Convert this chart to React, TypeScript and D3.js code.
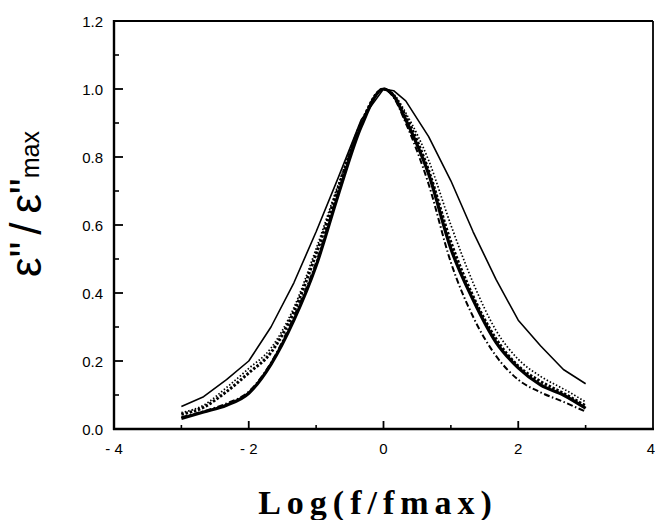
import * as d3 from "d3";
import React from "react";

// log(f/fmax) sample positions shared by every curve
const logF = [-3, -2.67, -2.33, -2, -1.67, -1.33, -1, -0.67, -0.33, 0, 0.15, 0.33, 0.67, 1, 1.33, 1.67, 2, 2.33, 2.67, 3];

// normalised loss curves
const thinSolid = [0.066, 0.095, 0.145, 0.2, 0.3, 0.43, 0.58, 0.74, 0.91, 1.0, 0.995, 0.965, 0.86, 0.73, 0.58, 0.44, 0.32, 0.245, 0.175, 0.133];
const fineDotted = [0.048, 0.07, 0.122, 0.178, 0.238, 0.357, 0.53, 0.72, 0.9, 1.0, 0.985, 0.93, 0.79, 0.6, 0.43, 0.29, 0.205, 0.155, 0.118, 0.08];
const thickSolid = [0.031, 0.05, 0.07, 0.105, 0.19, 0.32, 0.48, 0.69, 0.89, 1.0, 0.98, 0.91, 0.75, 0.53, 0.38, 0.255, 0.18, 0.13, 0.1, 0.061];
const dashDot = [0.035, 0.052, 0.075, 0.11, 0.195, 0.33, 0.49, 0.7, 0.9, 1.0, 0.975, 0.9, 0.72, 0.49, 0.33, 0.215, 0.145, 0.108, 0.08, 0.051];
const heavyDotted = [0.043, 0.064, 0.11, 0.165, 0.225, 0.345, 0.515, 0.71, 0.9, 1.0, 0.98, 0.92, 0.76, 0.55, 0.39, 0.265, 0.185, 0.14, 0.105, 0.068];

const xTicks = [-4, -2, 0, 2, 4];
const xTickLabels = ["- 4", "- 2", "0", "2", "4"];
const xMinor = [-3, -1, 1, 3];
const yTicks = [0, 0.2, 0.4, 0.6, 0.8, 1.0, 1.2];
const yMinor = [0.1, 0.3, 0.5, 0.7, 0.9, 1.1];

const W = 655, H = 520;
const left = 114, right = 653, top = 21, bottom = 429;

const x = d3.scaleLinear().domain([-4, 4]).range([left, right]);
const y = d3.scaleLinear().domain([0, 1.2]).range([bottom, top]);

const smooth = d3.line<number>()
  .x((_v, i) => x(logF[i]))
  .y((v) => y(v))
  .curve(d3.curveMonotoneX);
// the thin curve shows its data kinks in the original
const straight = d3.line<number>()
  .x((_v, i) => x(logF[i]))
  .y((v) => y(v))
  .curve(d3.curveLinear);

const series = [
  { vals: thinSolid, width: 1.6, dash: undefined, gen: straight },
  { vals: fineDotted, width: 1.7, dash: "1.5 2", gen: smooth },
  { vals: dashDot, width: 2, dash: "6 2.5 1.5 2.5", gen: smooth },
  { vals: heavyDotted, width: 3, dash: "2.5 1.8", gen: smooth },
  { vals: thickSolid, width: 3.2, dash: undefined, gen: smooth },
];

const sans = "'Liberation Sans', Arial, sans-serif";

export default function App() {
  return (
    <svg width={W} height={H} style={{ position: "absolute", left: 0, top: 0, background: "#fff" }}>
      {/* frame */}
      <line x1={left} x2={right} y1={top} y2={top} stroke="#000" strokeWidth={1.8} />
      <line x1={right} x2={right} y1={top} y2={bottom} stroke="#000" strokeWidth={1.8} />
      <line x1={left} x2={left} y1={top - 1} y2={bottom + 1} stroke="#000" strokeWidth={2.4} />
      <line x1={left - 1} x2={right + 1} y1={bottom} y2={bottom} stroke="#000" strokeWidth={2.4} />

      {/* y ticks */}
      {yTicks.map((t) => (
        <g key={"y" + t}>
          <line x1={left} x2={left + 9} y1={y(t)} y2={y(t)} stroke="#000" strokeWidth={1.8} />
          <text x={103} y={y(t) + 5.5} textAnchor="end" fontFamily={sans} fontSize={15}>
            {t.toFixed(1)}
          </text>
        </g>
      ))}
      {yMinor.map((t) => (
        <line key={"ym" + t} x1={left} x2={left + 5} y1={y(t)} y2={y(t)} stroke="#000" strokeWidth={1.6} />
      ))}

      {/* x ticks */}
      {xTicks.map((t, i) => (
        <g key={"x" + t}>
          {t > -4 && t < 4 && (
            <line x1={x(t)} x2={x(t)} y1={bottom} y2={bottom - 8} stroke="#000" strokeWidth={1.8} />
          )}
          <text
            x={t === 4 ? W : x(t)}
            y={454}
            textAnchor={t === 4 ? "end" : "middle"}
            fontFamily={sans}
            fontSize={15}
          >
            {xTickLabels[i]}
          </text>
        </g>
      ))}
      {xMinor.map((t) => (
        <line key={"xm" + t} x1={x(t)} x2={x(t)} y1={bottom} y2={bottom - 4} stroke="#000" strokeWidth={1.6} />
      ))}

      {/* curves */}
      {series.map((s, i) => (
        <path
          key={i}
          d={s.gen(s.vals) || ""}
          fill="none"
          stroke="#000"
          strokeWidth={s.width}
          strokeDasharray={s.dash}
          strokeLinejoin="round"
        />
      ))}

      {/* axis titles */}
      <text
        transform={`translate(41, 204) rotate(-90)`}
        textAnchor="middle"
        fontFamily={sans}
        fontSize={44}
      >
        <tspan>ε"</tspan>
        <tspan dx={7}>/</tspan>
        <tspan dx={9}>ε"</tspan>
        <tspan fontSize={25} dy={-2}>max</tspan>
      </text>
      <text
        x={378}
        y={514}
        textAnchor="middle"
        fontFamily="'Liberation Serif', 'Times New Roman', serif"
        fontWeight="bold"
        fontSize={34}
        letterSpacing={6}
      >
        Log(f/fmax)
      </text>
    </svg>
  );
}
